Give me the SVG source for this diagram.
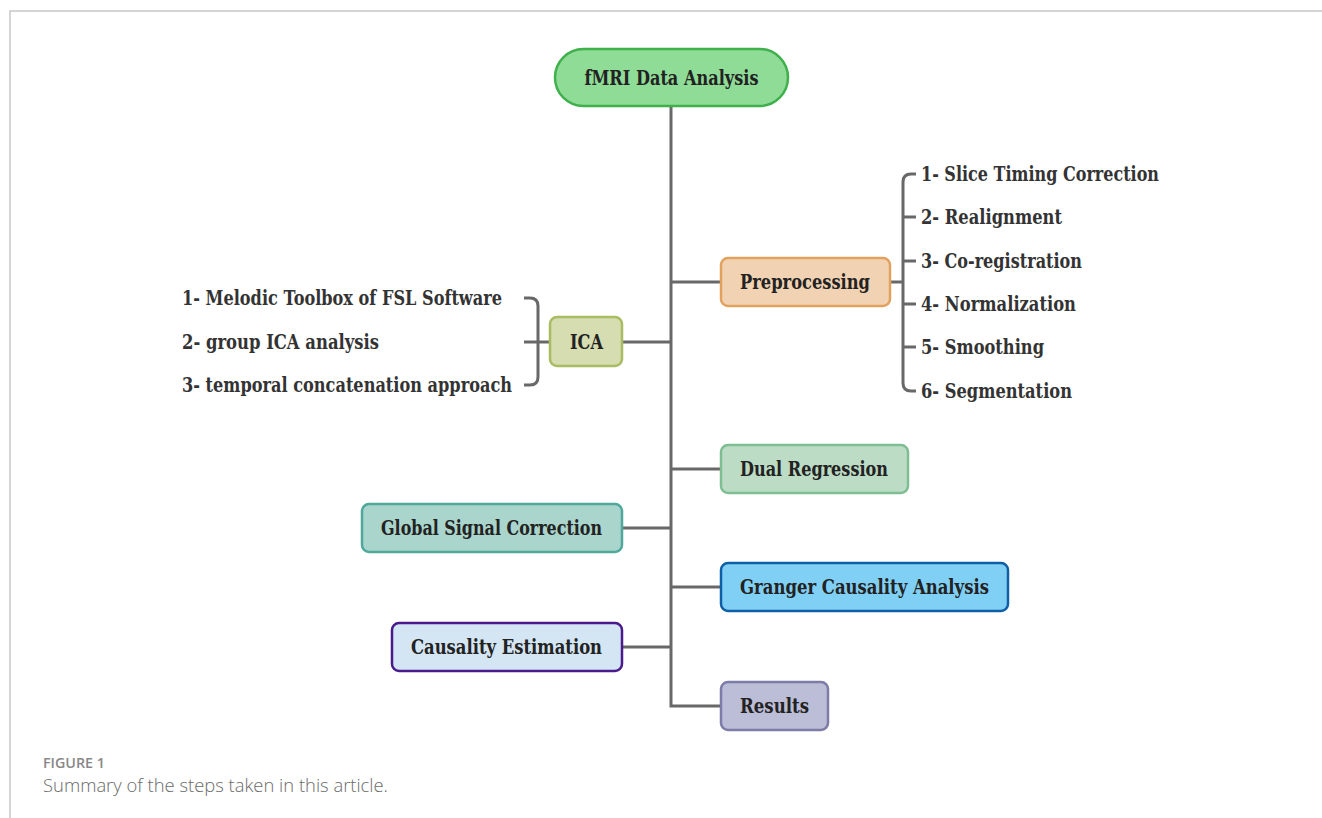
<svg xmlns="http://www.w3.org/2000/svg" width="1322" height="818" viewBox="0 0 1322 818">
  <defs>
    <style>
      .frame { stroke: #c8c8c8; stroke-width: 1.5; fill: none; }
      .wire { stroke: #686868; stroke-width: 3; fill: none; stroke-linecap: butt; }
      .box { stroke-width: 2.5; }
      .lbl { font-family: "DejaVu Serif", "Liberation Serif", serif; font-weight: bold; font-size: 19.5px; fill: #222222; }
      .item { font-family: "DejaVu Serif", "Liberation Serif", serif; font-weight: bold; font-size: 19.5px; fill: #333333; }
      .fig { font-family: "Open Sans", "Liberation Sans", sans-serif; font-weight: 600; font-size: 14px; fill: #888888; }
      .cap { font-family: "Open Sans", "Liberation Sans", sans-serif; font-weight: 300; font-size: 18.5px; fill: #6a6a6a; }
    </style>
  </defs>

  <rect width="1322" height="818" fill="#ffffff"/>

  <!-- page frame -->
  <path class="frame" d="M10,818 V11 H1322"/>

  <!-- connectors -->
  <g id="connectors">
    <path class="wire" d="M671,106 V706 H721"/>
    <path class="wire" d="M671,282 H721"/>
    <path class="wire" d="M622,342 H671"/>
    <path class="wire" d="M671,469 H721"/>
    <path class="wire" d="M622,528 H671"/>
    <path class="wire" d="M671,587 H721"/>
    <path class="wire" d="M622,647 H671"/>
    <!-- preprocessing steps bracket -->
    <path class="wire" d="M890,282 H903"/>
    <path class="wire" d="M916,174 H911 Q903,174 903,182 V383 Q903,391 911,391 H916"/>
    <path class="wire" d="M903,217 H916 M903,261 H916 M903,304 H916 M903,347 H916"/>
    <!-- ICA steps bracket -->
    <path class="wire" d="M524,298 H530 Q538,298 538,306 V377 Q538,385 530,385 H524"/>
    <path class="wire" d="M524,342 H550"/>
  </g>

  <!-- root -->
  <g id="node-root">
    <rect class="box" x="555" y="49" width="233" height="57" rx="28.5" fill="#8fdc97" stroke="#3fb04c"/>
    <text class="lbl" x="671.5" y="84.5" text-anchor="middle" font-size="20.5" textLength="174" lengthAdjust="spacingAndGlyphs">fMRI Data Analysis</text>
  </g>

  <g id="node-preprocessing">
    <rect class="box" x="721" y="258" width="169" height="48" rx="7" fill="#f1d3b3" stroke="#e2a25e"/>
    <text class="lbl" x="805" y="289" text-anchor="middle" textLength="130" lengthAdjust="spacingAndGlyphs">Preprocessing</text>
  </g>

  <g id="preprocessing-steps">
    <text class="item" x="921" y="181" textLength="238" lengthAdjust="spacingAndGlyphs">1- Slice Timing Correction</text>
    <text class="item" x="921" y="224" textLength="141" lengthAdjust="spacingAndGlyphs">2- Realignment</text>
    <text class="item" x="921" y="268" textLength="161" lengthAdjust="spacingAndGlyphs">3- Co-registration</text>
    <text class="item" x="921" y="311" textLength="155" lengthAdjust="spacingAndGlyphs">4- Normalization</text>
    <text class="item" x="921" y="354" textLength="123" lengthAdjust="spacingAndGlyphs">5- Smoothing</text>
    <text class="item" x="921" y="398" textLength="151" lengthAdjust="spacingAndGlyphs">6- Segmentation</text>
  </g>

  <g id="node-ica">
    <rect class="box" x="550" y="317" width="72" height="49" rx="7" fill="#d5ddb1" stroke="#a8bd62"/>
    <text class="lbl" x="586.5" y="349" text-anchor="middle" textLength="33" lengthAdjust="spacingAndGlyphs">ICA</text>
  </g>

  <g id="ica-steps">
    <text class="item" x="182" y="305" textLength="320" lengthAdjust="spacingAndGlyphs">1- Melodic Toolbox of FSL Software</text>
    <text class="item" x="182" y="349" textLength="197" lengthAdjust="spacingAndGlyphs">2- group ICA analysis</text>
    <text class="item" x="182" y="392" textLength="330" lengthAdjust="spacingAndGlyphs">3- temporal concatenation approach</text>
  </g>

  <g id="node-dual-regression">
    <rect class="box" x="721" y="445" width="187" height="48" rx="7" fill="#bddcc5" stroke="#7fbe93"/>
    <text class="lbl" x="814" y="476" text-anchor="middle" textLength="148" lengthAdjust="spacingAndGlyphs">Dual Regression</text>
  </g>

  <g id="node-global-signal">
    <rect class="box" x="362" y="504" width="260" height="48" rx="7" fill="#a9d5cd" stroke="#4fa89a"/>
    <text class="lbl" x="491.5" y="535" text-anchor="middle" textLength="221" lengthAdjust="spacingAndGlyphs">Global Signal Correction</text>
  </g>

  <g id="node-granger">
    <rect class="box" x="721" y="563" width="287" height="48" rx="7" fill="#80d0f6" stroke="#0f5fa6"/>
    <text class="lbl" x="864.5" y="594" text-anchor="middle" textLength="249" lengthAdjust="spacingAndGlyphs">Granger Causality Analysis</text>
  </g>

  <g id="node-causality-estimation">
    <rect class="box" x="392" y="623" width="230" height="48" rx="7" fill="#d4e6f3" stroke="#4a1b8c"/>
    <text class="lbl" x="506.5" y="654" text-anchor="middle" textLength="191" lengthAdjust="spacingAndGlyphs">Causality Estimation</text>
  </g>

  <g id="node-results">
    <rect class="box" x="721" y="682" width="107" height="48" rx="7" fill="#bcbdd6" stroke="#7d7ba8"/>
    <text class="lbl" x="774.5" y="713" text-anchor="middle" textLength="69" lengthAdjust="spacingAndGlyphs">Results</text>
  </g>

  <!-- caption -->
  <text class="fig" x="43" y="768" textLength="62" lengthAdjust="spacingAndGlyphs">FIGURE 1</text>
  <text class="cap" x="43" y="792" textLength="345" lengthAdjust="spacingAndGlyphs">Summary of the steps taken in this article.</text>
</svg>
